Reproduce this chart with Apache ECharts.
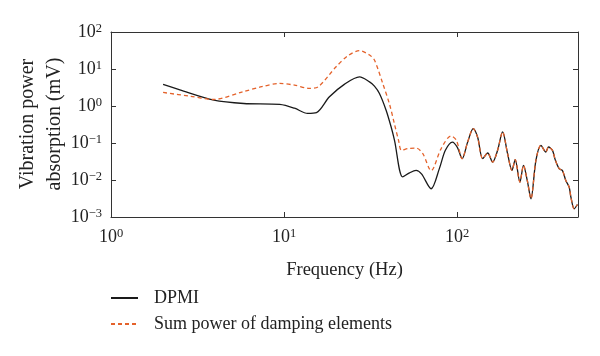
<!DOCTYPE html>
<html>
<head>
<meta charset="utf-8">
<script src="https://cdn.jsdelivr.net/npm/echarts@6/dist/echarts.min.js"></script>
<style>html,body{margin:0;padding:0;background:#fff}#c{width:600px;height:356px}</style>
</head>
<body>
<div id="c"></div>
<script>
// DPMI curve
const dpmiFreq = [2.0, 2.5, 3.93, 5.85, 9.44, 11.5, 13.7, 15.4, 18.3, 22.4, 27.3, 31.2, 33.3, 35.6, 38.9, 41.6, 43.5, 48.5, 53.1, 58.0, 62.3, 70.8, 79.1, 85.6, 94.0, 100.4];
const dpmiVal  = [3.83, 2.72, 1.44, 1.17, 1.10, 0.87, 0.63, 0.66, 1.77, 3.90, 6.15, 4.50, 3.44, 2.18, 0.77, 0.27, 0.118, 0.0121, 0.0156, 0.0182, 0.0146, 0.0058, 0.0206, 0.0634, 0.106, 0.076];
// Sum power of damping elements curve (before it merges with DPMI)
const sumFreq = [2.0, 2.86, 3.9, 5.77, 7.43, 9.44, 11.5, 14.06, 15.8, 20.0, 23.3, 27.3, 31.2, 33.3, 37.2, 40.7, 43.5, 45.9, 47.7, 51.9, 58.0, 63.4, 70.8, 80.9, 92.3, 99.1];
const sumVal  = [2.32, 1.84, 1.50, 2.41, 3.33, 4.07, 3.66, 2.98, 3.33, 11.5, 22.4, 31.5, 23.8, 17.4, 4.07, 1.12, 0.321, 0.118, 0.0634, 0.0705, 0.0731, 0.0516, 0.0179, 0.0705, 0.155, 0.118];
// shared high-frequency part (both curves coincide)
const tailFreq = [107, 115, 124, 131.5, 140.6, 150.3, 160.5, 171.5, 183.3, 195.9, 207.6, 216.8, 230.8, 242.1, 254.5, 267.3, 285.6, 305.3, 326, 337.5, 356, 369, 389, 406, 425, 444.6, 455, 475, 496];
const tailVal  = [0.0378, 0.104, 0.245, 0.143, 0.0378, 0.0536, 0.0305, 0.0634, 0.199, 0.0516, 0.0182, 0.0355, 0.00877, 0.0249, 0.00975, 0.00311, 0.034, 0.0867, 0.057, 0.078, 0.0634, 0.0355, 0.0202, 0.0182, 0.00975, 0.00643, 0.00344, 0.00167, 0.00218];
const seriesNames = ['DPMI', 'Sum power of damping elements'];
const xName = 'Frequency (Hz)';
const yName = 'Vibration power\nabsorption (mV)';

const pairs = (f, v) => f.map((x, i) => [x, v[i]]);
const dpmiData = pairs(dpmiFreq.concat(tailFreq), dpmiVal.concat(tailVal));
const sumData = pairs(sumFreq.concat(tailFreq), sumVal.concat(tailVal));

const FONT = 'Liberation Serif';
function powLabel(v) {
  const l = Math.log10(v);
  const e = Math.round(l);
  if (Math.abs(l - e) > 1e-6) return '';
  return '{b|10}{s|' + (e < 0 ? '\u2212' + (-e) : e) + '}';
}
const rich = {
  b: {fontFamily: FONT, fontSize: 18, color: '#222', lineHeight: 20},
  s: {fontFamily: FONT, fontSize: 12.5, color: '#222', verticalAlign: 'top', padding: [0, 0, 8, 0], lineHeight: 20}
};
const lineCol = '#333';
const chart = echarts.init(document.getElementById('c'), null, {renderer: 'canvas'});
chart.setOption({
  animation: false,
  backgroundColor: '#fff',
  grid: {left: 111, right: 22, top: 32, bottom: 139, containLabel: false, outerBoundsMode: 'none'},
  graphic: [{
    type: 'text', x: 41, y: 124, rotation: Math.PI / 2,
    style: {text: yName, fontFamily: FONT, fontSize: 20, fill: '#222', lineHeight: 27,
            align: 'center', verticalAlign: 'middle'}
  }],
  legend: {
    orient: 'vertical', left: 105, top: 284, itemWidth: 27, itemHeight: 10, itemGap: 8,
    itemStyle: {opacity: 0},
    textStyle: {fontFamily: FONT, fontSize: 18, color: '#222', padding: [0, 0, 0, 11]},
    data: seriesNames
  },
  xAxis: [{
    type: 'log', logBase: 10, min: 1, max: 500,
    name: xName, nameLocation: 'middle', nameGap: 44,
    nameTextStyle: {fontFamily: FONT, fontSize: 18.5, color: '#222'},
    axisLine: {show: true, lineStyle: {color: lineCol, width: 1}},
    axisTick: {show: true, inside: true, length: 5, lineStyle: {color: lineCol}},
    minorTick: {show: false}, splitLine: {show: false},
    axisLabel: {formatter: powLabel, rich: rich, margin: 10, showMaxLabel: false}
  }, {
    type: 'log', logBase: 10, min: 1, max: 500, position: 'top',
    axisLine: {show: true, lineStyle: {color: lineCol, width: 1}},
    axisTick: {show: true, inside: true, length: 5, lineStyle: {color: lineCol}},
    axisLabel: {show: false}, splitLine: {show: false}
  }],
  yAxis: [{
    type: 'log', logBase: 10, min: 0.001, max: 100,
    axisLine: {show: true, lineStyle: {color: lineCol, width: 1}},
    axisTick: {show: true, inside: true, length: 5, lineStyle: {color: lineCol}},
    splitLine: {show: false},
    axisLabel: {formatter: powLabel, rich: rich, margin: 9}
  }, {
    type: 'log', logBase: 10, min: 0.001, max: 100, position: 'right',
    axisLine: {show: true, lineStyle: {color: lineCol, width: 1}},
    axisTick: {show: true, inside: true, length: 5, lineStyle: {color: lineCol}},
    axisLabel: {show: false}, splitLine: {show: false}
  }],
  series: [{
    name: seriesNames[0], type: 'line', data: dpmiData, showSymbol: false, symbol: 'none',
    smooth: 0.3, z: 3,
    lineStyle: {color: '#1a1a1a', width: 1.3}, itemStyle: {color: '#1a1a1a'}
  }, {
    name: seriesNames[1], type: 'line', data: sumData, showSymbol: false, symbol: 'none',
    smooth: 0.3, z: 4,
    lineStyle: {color: '#e4622b', width: 1.3, type: [4, 3]}, itemStyle: {color: '#e4622b'}
  }]
});
</script>
</body>
</html>
